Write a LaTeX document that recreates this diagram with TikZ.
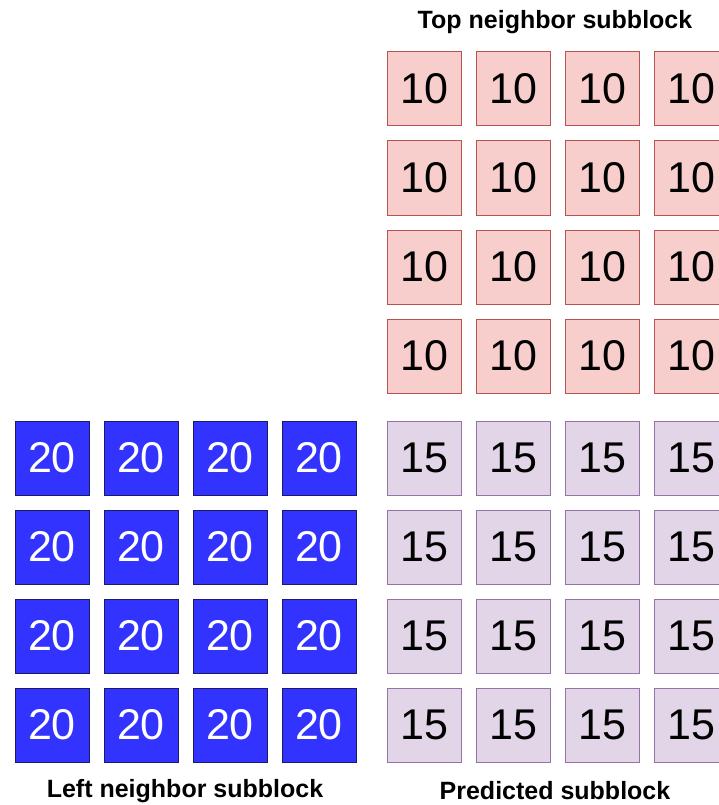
\documentclass[tikz,border=0pt]{standalone}
\usepackage{fontspec}
\setmainfont{Liberation Sans}
\usepackage{tikz}
\usetikzlibrary{positioning}

\definecolor{topfill}{HTML}{F8CECC}
\definecolor{topline}{HTML}{B85450}
\definecolor{predfill}{HTML}{E1D5E7}
\definecolor{predline}{HTML}{9673A6}
\definecolor{leftfill}{HTML}{3333FF}
\definecolor{leftline}{HTML}{1A1A66}

\begin{document}
\begin{tikzpicture}[x=1pt,y=-1pt,
    cell/.style={draw, line width=1pt, minimum size=74pt, inner sep=0pt,
      font=\fontsize{43}{43}\selectfont},
    topcell/.style={cell, fill=topfill, draw=topline},
    predcell/.style={cell, fill=predfill, draw=predline},
    leftcell/.style={cell, fill=leftfill, draw=leftline, text=white},
    caption/.style={font=\fontsize{25}{25}\selectfont\bfseries}]
    \useasboundingbox (0,0) rectangle (719,805);
    \clip (0,0) rectangle (719,805);
    % Top neighbor subblock
    \foreach \r in {0,...,3} {
      \foreach \c in {0,...,3} {
        \node[topcell] (top-\r-\c) at (424+89*\c, 89+89*\r) {10};
      }
    }
    % Left neighbor subblock
    \foreach \r in {0,...,3} {
      \foreach \c in {0,...,3} {
        \node[leftcell] (left-\r-\c) at (52+89*\c, 458+89*\r) {20};
      }
    }
    % Predicted subblock
    \foreach \r in {0,...,3} {
      \foreach \c in {0,...,3} {
        \node[predcell] (pred-\r-\c) at (424+89*\c, 458+89*\r) {15};
      }
    }
    % Captions
    \node[caption] (toplab) at (555,22) {Top neighbor subblock};
    \node[caption] (leftlab) at (185,791) {Left neighbor subblock};
    \node[caption] (predlab) at (555,791) {Predicted subblock};
  \end{tikzpicture}
\end{document}
